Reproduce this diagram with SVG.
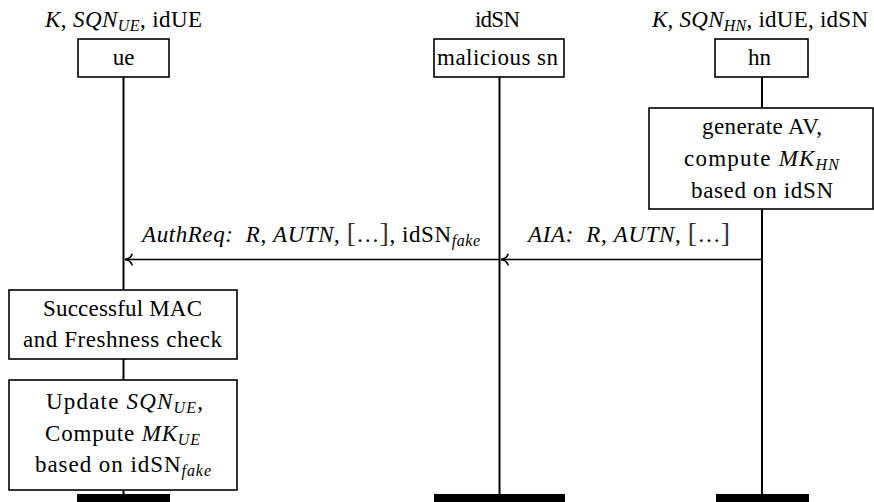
<svg xmlns="http://www.w3.org/2000/svg" width="874" height="502" viewBox="0 0 874 502">
  <style>
    text { font-family: "Liberation Serif", "Times New Roman", serif; font-size: 23px; fill: #000; }
    .c { text-anchor: middle; }
    .i { font-style: italic; }
    .sub { font-size: 16px; font-style: italic; }
    .br { font-size: 27px; fill: #333; }
    .box { fill: #fff; stroke: #000; stroke-width: 1.6; }
    .life { stroke: #000; stroke-width: 2; fill: none; }
    .msg { stroke: #000; stroke-width: 1.6; fill: none; }
    .end { fill: #000; }
  </style>
  <defs>
    <marker id="to" markerUnits="userSpaceOnUse" markerWidth="14" markerHeight="14" viewBox="-8 -6 10 12" refX="0" refY="0" orient="auto" overflow="visible">
      <path d="M-6,-4.5 C-5,-1.5 -2,-0.3 0,0 C-2,0.3 -5,1.5 -6,4.5" fill="none" stroke="#000" stroke-width="1.4" stroke-linecap="round"/>
    </marker>
  </defs>

  <!-- lifelines -->
  <g id="lifelines">
    <line class="life" x1="123.5" y1="77" x2="123.5" y2="290"/>
    <line class="life" x1="123.5" y1="359" x2="123.5" y2="380"/>
    <line class="life" x1="123.5" y1="490" x2="123.5" y2="494"/>
    <line class="life" x1="499.5" y1="77" x2="499.5" y2="494"/>
    <line class="life" x1="762" y1="77" x2="762" y2="108"/>
    <line class="life" x1="762" y1="209" x2="762" y2="494"/>
  </g>

  <!-- participant: ue -->
  <g id="ue">
    <text class="c" x="123.5" y="27" textLength="157" lengthAdjust="spacing"><tspan class="i">K</tspan>, <tspan class="i">SQN</tspan><tspan class="sub" dy="4">UE</tspan><tspan dy="-4">, idUE</tspan></text>
    <rect class="box" x="78" y="39" width="91" height="38"/>
    <text class="c" x="123.5" y="65">ue</text>
    <rect class="end" x="77" y="494" width="93" height="8"/>
  </g>

  <!-- participant: malicious sn -->
  <g id="sn">
    <text class="c" x="497.5" y="27" textLength="45" lengthAdjust="spacing">idSN</text>
    <rect class="box" x="434" y="39" width="130" height="38"/>
    <text class="c" x="497.5" y="65" textLength="121" lengthAdjust="spacing">malicious sn</text>
    <rect class="end" x="434" y="494" width="131" height="8"/>
  </g>

  <!-- participant: hn -->
  <g id="hn">
    <text class="c" x="760" y="27" textLength="216" lengthAdjust="spacing"><tspan class="i">K</tspan>, <tspan class="i">SQN</tspan><tspan class="sub" dy="4">HN</tspan><tspan dy="-4">, idUE, idSN</tspan></text>
    <rect class="box" x="715" y="39" width="93" height="38"/>
    <text class="c" x="759.5" y="65">hn</text>
    <rect class="end" x="716" y="494" width="93" height="8"/>
  </g>

  <!-- hn action -->
  <g id="hn-generate">
    <rect class="box" x="649" y="108" width="224" height="101"/>
    <text class="c" x="762" y="134" textLength="120" lengthAdjust="spacing">generate AV,</text>
    <text class="c" x="761.5" y="166" textLength="155" lengthAdjust="spacing">compute <tspan class="i">MK</tspan><tspan class="sub" dy="4">HN</tspan></text>
    <text class="c" x="762" y="198" textLength="142" lengthAdjust="spacing">based on idSN</text>
  </g>

  <!-- ue actions -->
  <g id="ue-check">
    <rect class="box" x="9" y="290" width="228" height="69"/>
    <text class="c" x="122.5" y="316" textLength="159" lengthAdjust="spacing">Successful MAC</text>
    <text class="c" x="122.5" y="347" textLength="199" lengthAdjust="spacing">and Freshness check</text>
  </g>
  <g id="ue-update">
    <rect class="box" x="9" y="380" width="228" height="110"/>
    <text class="c" x="124.5" y="409" textLength="157" lengthAdjust="spacing">Update <tspan class="i">SQN</tspan><tspan class="sub" dy="4">UE</tspan><tspan dy="-4">,</tspan></text>
    <text class="c" x="122.5" y="441" textLength="155" lengthAdjust="spacing">Compute <tspan class="i">MK</tspan><tspan class="sub" dy="4">UE</tspan></text>
    <text class="c" x="123" y="472" textLength="176" lengthAdjust="spacing">based on idSN<tspan class="sub" dy="4">fake</tspan></text>
  </g>

  <!-- messages -->
  <g id="connectors">
    <line class="msg" x1="762" y1="259.5" x2="501" y2="259.5" marker-end="url(#to)"/>
    <line class="msg" x1="499.5" y1="259.5" x2="125" y2="259.5" marker-end="url(#to)"/>
    <text x="142" y="242" textLength="338" lengthAdjust="spacing"><tspan class="i">AuthReq:</tspan> <tspan class="i" dx="6">R</tspan>, <tspan class="i">AUTN</tspan>, <tspan class="br">[</tspan>…<tspan class="br">]</tspan>, idSN<tspan class="sub" dy="4">fake</tspan></text>
    <text x="528" y="242" textLength="202" lengthAdjust="spacing"><tspan class="i">AIA:</tspan> <tspan class="i" dx="6">R</tspan>, <tspan class="i">AUTN</tspan>, <tspan class="br">[</tspan>…<tspan class="br">]</tspan></text>
  </g>
</svg>
